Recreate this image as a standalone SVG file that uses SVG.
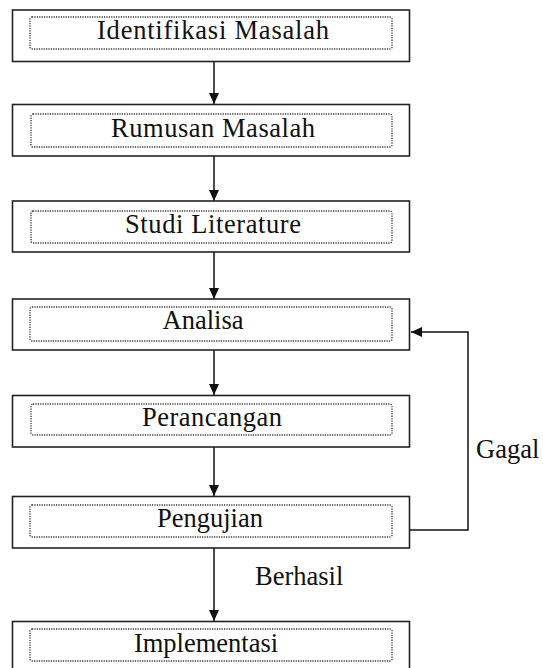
<svg xmlns="http://www.w3.org/2000/svg" width="543" height="668" viewBox="0 0 543 668">
<style>
.outer{fill:#fff;stroke:#222;stroke-width:1.6}
.inner{fill:none;stroke:#333;stroke-width:1.3;stroke-dasharray:1.2 1.2}
.lbl{font-family:"Liberation Serif","Times New Roman",serif;font-size:26.5px;fill:#111;text-anchor:middle}
.side{font-family:"Liberation Serif","Times New Roman",serif;font-size:26.5px;fill:#111}
.conn{fill:none;stroke:#111;stroke-width:1.5}
</style>
<defs>
<marker id="ah" markerUnits="userSpaceOnUse" markerWidth="12" markerHeight="12" viewBox="0 0 12 12" refX="11" refY="6" orient="auto">
<path d="M0,1 L11,6 L0,11 z" fill="#111"/>
</marker>
</defs>
<rect width="543" height="668" fill="#fff"/>
<g id="connectors">
<line class="conn" x1="214" y1="62" x2="214" y2="104" marker-end="url(#ah)"/>
<line class="conn" x1="214" y1="156" x2="214" y2="201" marker-end="url(#ah)"/>
<line class="conn" x1="214" y1="252" x2="214" y2="299" marker-end="url(#ah)"/>
<line class="conn" x1="214" y1="350" x2="214" y2="395" marker-end="url(#ah)"/>
<line class="conn" x1="214" y1="447" x2="214" y2="496" marker-end="url(#ah)"/>
<line class="conn" x1="214" y1="548" x2="214" y2="621" marker-end="url(#ah)"/>
<polyline class="conn" points="409,530 468,530 468,332 411,332" marker-end="url(#ah)"/>
<text class="side" x="476" y="458">Gagal</text>
<text class="side" x="255" y="585">Berhasil</text>
</g>
<g id="identifikasi">
<rect class="outer" x="12.5" y="10" width="397" height="51.5"/>
<rect class="inner" x="30" y="17" width="362" height="32" rx="2"/>
<text class="lbl" x="213" y="39" textLength="232" lengthAdjust="spacing">Identifikasi Masalah</text>
</g>
<g id="rumusan">
<rect class="outer" x="12.5" y="104.5" width="397" height="51.5"/>
<rect class="inner" x="31" y="114" width="361" height="33" rx="2"/>
<text class="lbl" x="213" y="137" textLength="204" lengthAdjust="spacing">Rumusan Masalah</text>
</g>
<g id="studi">
<rect class="outer" x="12.5" y="201" width="397" height="51"/>
<rect class="inner" x="31" y="211" width="361" height="32" rx="2"/>
<text class="lbl" x="213" y="233" textLength="176" lengthAdjust="spacing">Studi Literature</text>
</g>
<g id="analisa">
<rect class="outer" x="12.5" y="299" width="397" height="51"/>
<rect class="inner" x="30" y="307" width="362" height="34" rx="2"/>
<text class="lbl" x="203" y="329">Analisa</text>
</g>
<g id="perancangan">
<rect class="outer" x="12.5" y="395.5" width="397" height="51.5"/>
<rect class="inner" x="31" y="404" width="361" height="31" rx="2"/>
<text class="lbl" x="212" y="426" textLength="140" lengthAdjust="spacing">Perancangan</text>
</g>
<g id="pengujian">
<rect class="outer" x="12.5" y="496.5" width="397" height="51.5"/>
<rect class="inner" x="30" y="505" width="362" height="32" rx="2"/>
<text class="lbl" x="210" y="527">Pengujian</text>
</g>
<g id="implementasi">
<rect class="outer" x="12.5" y="621.5" width="397" height="60"/>
<rect class="inner" x="30" y="629" width="362" height="32" rx="2"/>
<text class="lbl" x="206" y="652">Implementasi</text>
</g>
</svg>
